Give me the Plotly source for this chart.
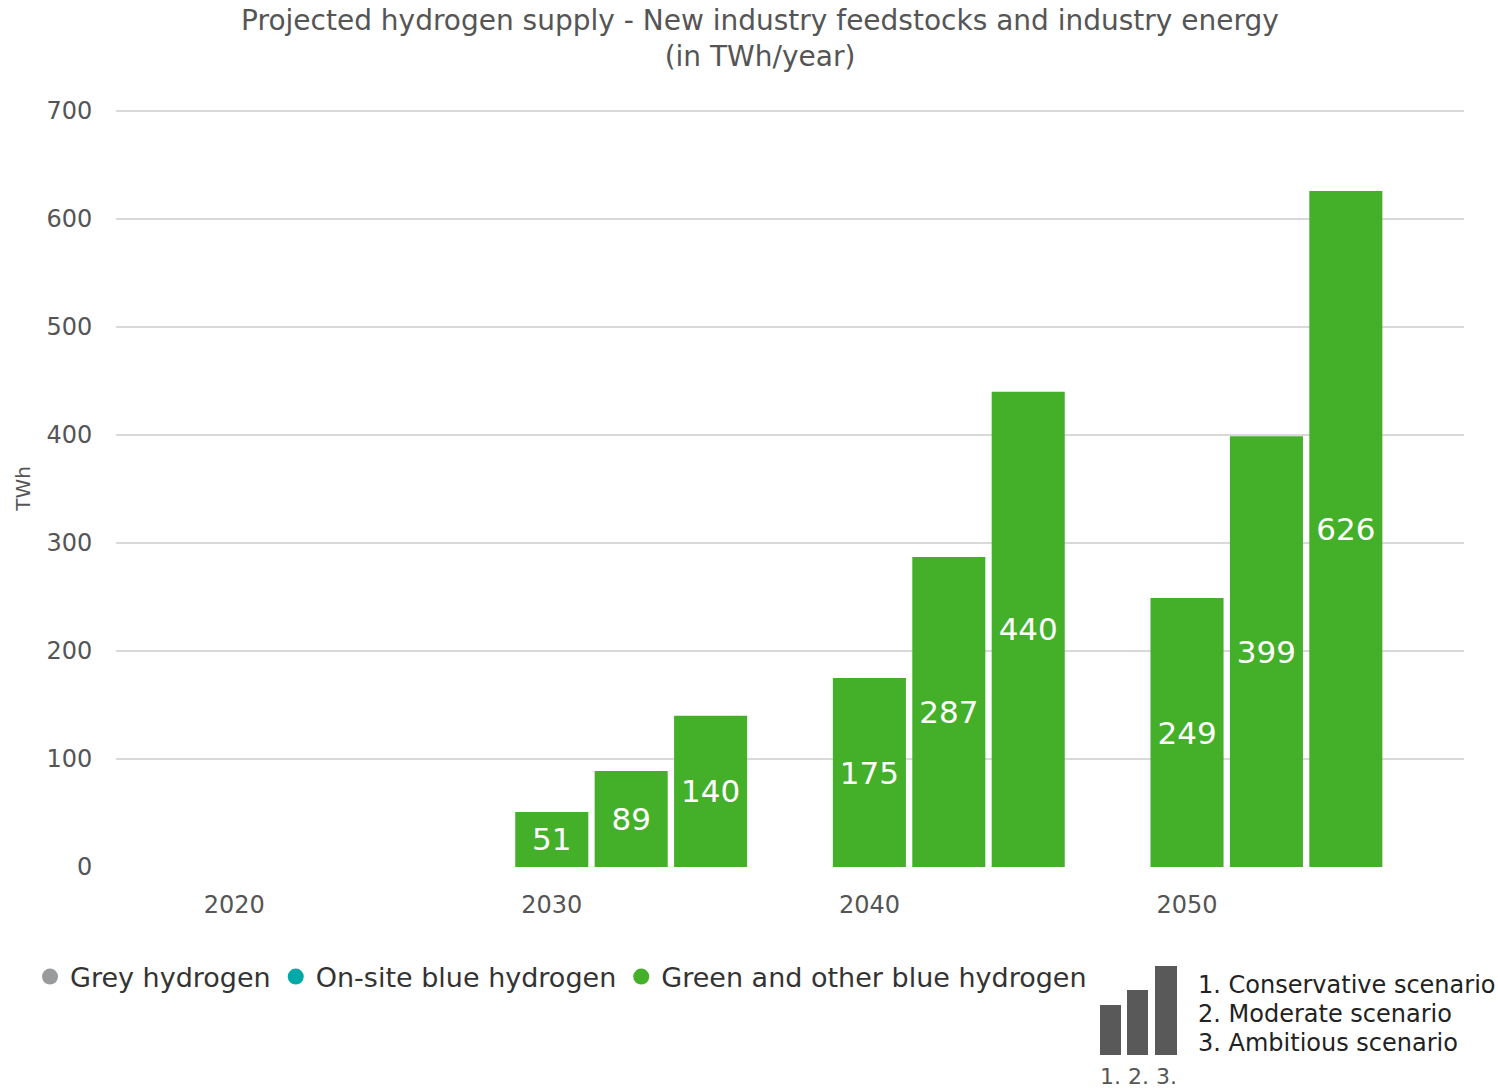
import plotly.graph_objects as go

# ---- data ----
years = [2020, 2030, 2040, 2050]
scenario_names = ["Conservative scenario", "Moderate scenario", "Ambitious scenario"]
conservative = [None, 51, 175, 249]
moderate = [None, 89, 287, 399]
ambitious = [None, 140, 440, 626]
legend_names = ["Grey hydrogen", "On-site blue hydrogen", "Green and other blue hydrogen"]
legend_colors = ["#999a9c", "#00a9a9", "#44b02a"]
y_ticks = [0, 100, 200, 300, 400, 500, 600, 700]

GREEN = "#44b02a"
FONT = "DejaVu Sans"

# plot area in pixels
L, R, T, B = 116, 1464, 110, 867
W, H = 1498, 1090


def px_x(px):
    return (px - L) / (R - L)


def px_y(py):
    return (B - py) / (B - T)


fig = go.Figure()

series = [conservative, moderate, ambitious]
offsets = [-1.15, 1.35, 3.85]
for name, vals, off in zip(scenario_names, series, offsets):
    fig.add_trace(go.Bar(
        x=years, y=vals, name=name, offset=off, width=2.3,
        marker=dict(color=GREEN, line=dict(width=0)),
        texttemplate="%{y}", textposition="inside", insidetextanchor="middle",
        constraintext="none", textangle=0,
        textfont=dict(color="white", size=31, family=FONT),
        showlegend=False, hoverinfo="y",
    ))

for nm, col in zip(legend_names, legend_colors):
    fig.add_trace(go.Scatter(
        x=[None], y=[None], mode="markers", name=nm,
        marker=dict(color=col, size=20, symbol="circle"),
    ))

# scenario key graphic (decoration)
key_bars = [(1100, 1121, 1005), (1127, 1148, 990), (1155, 1177, 966)]
shapes = []
for x0, x1, y0 in key_bars:
    shapes.append(dict(type="rect", xref="paper", yref="paper",
                       x0=px_x(x0), x1=px_x(x1), y0=px_y(1055), y1=px_y(y0),
                       fillcolor="#595959", line=dict(width=0)))

annotations = [
    dict(text="1. 2. 3.", xref="paper", yref="paper", x=px_x(1098), y=px_y(1076),
         xanchor="left", yanchor="middle", showarrow=False,
         font=dict(size=22, color="#555555", family=FONT)),
]
for i, (nm, yy) in enumerate(zip(scenario_names, [985, 1014, 1043])):
    annotations.append(dict(text=f"{i+1}. {nm}", xref="paper", yref="paper",
                            x=px_x(1196), y=px_y(yy), xanchor="left", yanchor="middle",
                            showarrow=False, font=dict(size=24, color="#222222", family=FONT)))

fig.update_layout(
    width=W, height=H,
    margin=dict(l=L, r=W - R, t=T, b=H - B, autoexpand=False),
    paper_bgcolor="white", plot_bgcolor="white",
    font=dict(family=FONT, color="#555555"),
    barmode="overlay",
    title=dict(text="Projected hydrogen supply - New industry feedstocks and industry energy<br>(in TWh/year)",
               x=760 / W, xanchor="center", xref="container",
               y=1 - 30 / H, yanchor="top", yref="container",
               font=dict(size=28, color="#555555", family=FONT)),
    xaxis=dict(range=[2016.28, 2058.72], tickvals=years, ticktext=[str(y) for y in years],
               showgrid=False, zeroline=False, showline=False,
               ticks="outside", ticklen=16, tickcolor="rgba(0,0,0,0)",
               tickfont=dict(size=24, color="#555555", family=FONT)),
    yaxis=dict(range=[0, 701], tickvals=y_ticks, showgrid=True, gridcolor="#d9d9d9", gridwidth=1.5,
               zeroline=False, showline=False,
               ticks="outside", ticklen=18, tickcolor="rgba(0,0,0,0)",
               tickfont=dict(size=24, color="#555555", family=FONT),
               title=dict(text="TWh", font=dict(size=20, color="#555555", family=FONT), standoff=10)),
    legend=dict(orientation="h", x=px_x(30), xanchor="left", y=px_y(977), yanchor="middle",
                font=dict(size=27, color="#333333", family=FONT),
                bgcolor="rgba(0,0,0,0)"),
    shapes=shapes,
    annotations=annotations,
)

fig.write_html("out.html", config={"displayModeBar": False},
               post_script="document.body.style.margin='0';")
